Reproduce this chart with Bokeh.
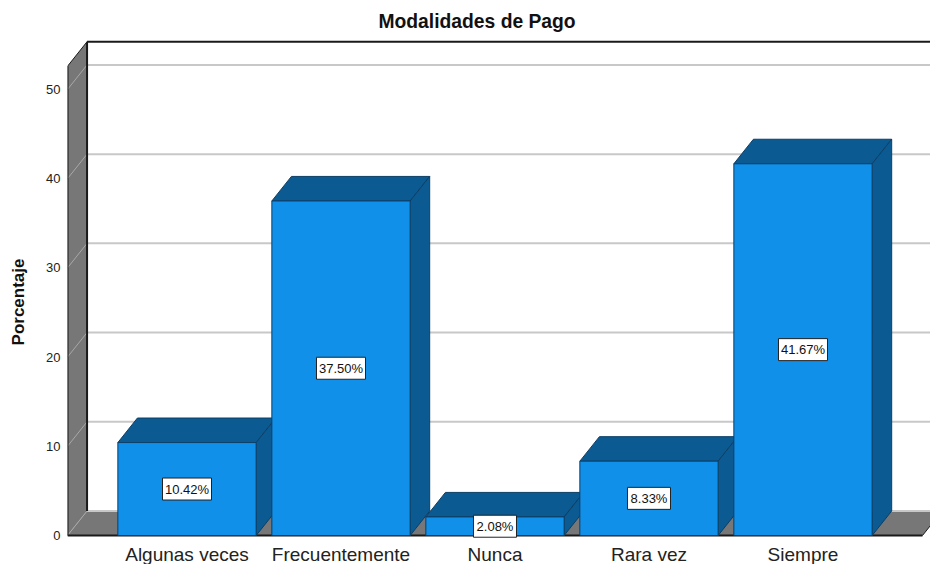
from bokeh.plotting import figure
from bokeh.embed import file_html
from bokeh.resources import INLINE
from bokeh.core.properties import value
from bokeh.models import ColumnDataSource, FixedTicker, LabelSet, Range1d, Title

categories = ["Algunas veces", "Frecuentemente", "Nunca", "Rara vez", "Siempre"]
values = [10.42, 37.50, 2.08, 8.33, 41.67]
y_ticks = [0, 10, 20, 30, 40, 50]
title_text = "Modalidades de Pago"
y_label = "Porcentaje"

positions = list(range(len(categories)))
BAR_W = 0.898
DX = 0.127       # depth of the 3D box along x (category units)
DY = 2.75        # depth of the 3D box along y (value units)
X0 = -0.776      # left edge of the front wall
X1 = 4.776       # right end of the front floor edge
XR = 4.828       # right edge of the frame
Y_TOP = 52.6     # wall height
FONT = "Liberation Sans"

p = figure(width=930, height=564, output_backend="svg", toolbar_location=None,
           x_range=Range1d(X0, XR), y_range=Range1d(-3.25, 55.6),
           min_border_left=67, min_border_right=0, min_border_top=39, min_border_bottom=0,
           outline_line_color=None, background_fill_color="white")
p.grid.visible = False

p.title = Title(text=title_text, align="left", offset=311, standoff=16,
                text_font=FONT, text_font_size="19.3px", text_font_style="bold",
                text_color="#111111")

# axes
p.xaxis.fixed_location = 0
p.xaxis.ticker = FixedTicker(ticks=positions)
p.xaxis.major_label_overrides = {i: c for i, c in zip(positions, categories)}
p.xaxis.major_label_text_font = FONT
p.xaxis.major_label_text_font_size = "19px"
p.xaxis.major_label_text_color = "#222222"
p.xaxis.major_label_standoff = 2
p.yaxis.ticker = FixedTicker(ticks=y_ticks)
p.yaxis.major_label_text_font = FONT
p.yaxis.major_label_text_font_size = "13px"
p.yaxis.major_label_text_color = "#222222"
p.yaxis.major_label_standoff = 1
p.yaxis.axis_label = y_label
p.yaxis.axis_label_text_font = FONT
p.yaxis.axis_label_text_font_size = "17px"
p.yaxis.axis_label_text_font_style = "bold"
p.yaxis.axis_label_text_color = "#111111"
p.yaxis.axis_label_standoff = 15
for ax in (p.xaxis, p.yaxis):
    ax.axis_line_color = None
    ax.major_tick_line_color = None
    ax.minor_tick_line_color = None

WALL = "#777777"
DARK = "#1a1a1a"
# left wall and floor
p.patch([X0, X0 + DX, X0 + DX, X0], [Y_TOP, Y_TOP + DY, DY, 0], fill_color=WALL, line_color=None)
p.patch([X0, X0 + DX, X1 + DX, X1], [0, DY, DY, 0], fill_color=WALL, line_color=None)

# gridlines on the back wall and their diagonals on the left wall
n = len(y_ticks)
p.segment(x0=[X0 + DX] * n, y0=[t + DY for t in y_ticks], x1=[XR] * n, y1=[t + DY for t in y_ticks],
          line_color="#c8c8c8", line_width=2)
p.segment(x0=[X0] * n, y0=y_ticks, x1=[X0 + DX] * n, y1=[t + DY for t in y_ticks],
          line_color="#a8a8a8", line_width=1)

# wall outlines
p.line([X0, X0], [0, Y_TOP], line_color=DARK, line_width=2)
p.line([X0 + DX, X0 + DX], [DY, Y_TOP + DY], line_color=DARK, line_width=2)
p.line([X0, X0 + DX], [Y_TOP, Y_TOP + DY], line_color=DARK, line_width=1)
p.line([X0 + DX, XR], [Y_TOP + DY, Y_TOP + DY], line_color=DARK, line_width=2)
p.line([X0, X1], [0, 0], line_color=DARK, line_width=2)
p.line([X1, X1 + DX], [0, DY], line_color=DARK, line_width=1)

FRONT = "#1090e8"
SIDE = "#0b5a92"
EDGE = "#0d3f66"
for x, v in zip(positions, values):
    l, r = x - BAR_W / 2, x + BAR_W / 2
    p.patch([l, l + DX, r + DX, r], [v, v + DY, v + DY, v], fill_color=SIDE, line_color=EDGE, line_width=1)
    p.patch([r, r + DX, r + DX, r], [v, v + DY, DY, 0], fill_color=SIDE, line_color=EDGE, line_width=1)
    p.quad(left=[l], right=[r], bottom=[0], top=[v], fill_color=FRONT, line_color=EDGE, line_width=1)

# value labels: white box sized from the text, then the text itself
texts = [f"{v:.2f}%" for v in values]
src = ColumnDataSource(dict(x=positions, y=[v / 2 for v in values], t=texts,
                            w=[len(t) * 6 + 13 for t in texts]))
p.rect(x="x", y="y", width="w", height=22, width_units="screen", height_units="screen", source=src,
       fill_color="white", line_color="#222222", line_width=1)
p.add_layout(LabelSet(x="x", y="y", text="t", source=src, text_align="center", text_baseline="middle",
                      text_font=value(FONT), text_font_size="13px", text_color="#111111"))

open("out.html", "w").write(file_html(p, INLINE))
